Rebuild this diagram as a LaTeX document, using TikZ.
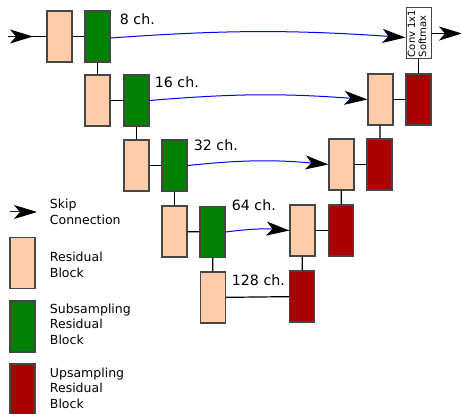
\documentclass[tikz,border=0pt]{standalone}
\usepackage{fontspec}
\setmainfont{DejaVu Sans}
\usetikzlibrary{arrows.meta}
\definecolor{peach}{RGB}{255,204,170}
\definecolor{sgreen}{RGB}{0,128,0}
\definecolor{ured}{RGB}{170,0,0}
\definecolor{edge}{RGB}{70,70,70}

\newcommand\myblock[4]{\node[block, fill=#4] (#1) at (#2,#3) {};}

\begin{document}
\begin{tikzpicture}[x=1pt, y=-1pt, line width=1.2pt,
    block/.style={draw=edge, minimum width=25pt, minimum height=51pt, inner sep=0pt},
    tip/.style={-{Stealth[color=black, length=23pt, width=14pt, inset=6pt]}},
    skip/.style={tip, blue, line width=1pt},
    lbl/.style={anchor=west, font=\fontsize{14.2}{16}\selectfont},
    leg/.style={anchor=west, align=left, font=\fontsize{12.5}{15.5}\selectfont}]
    \useasboundingbox (0,0) rectangle (461,414);

    % down path
    \myblock{r1}{59.5}{36.5}{peach}
    \myblock{s1}{97.5}{36.5}{sgreen}
    \myblock{r2}{97.5}{100.5}{peach}
    \myblock{s2}{136.5}{100.5}{sgreen}
    \myblock{r3}{136.5}{165.5}{peach}
    \myblock{s3}{174.5}{165.5}{sgreen}
    \myblock{r4}{174.5}{231.5}{peach}
    \myblock{s4}{212.5}{232}{sgreen}
    \myblock{r5}{213}{297.5}{peach}

    % up path
    \myblock{u5}{302}{296.5}{ured}
    \myblock{q4}{302.5}{230.5}{peach}
    \myblock{u4}{341}{230.5}{ured}
    \myblock{q3}{341.5}{164.5}{peach}
    \myblock{u3}{379.5}{164.5}{ured}
    \myblock{q2}{380.5}{99.5}{peach}
    \myblock{u2}{418.5}{99.5}{ured}
    \node[draw=edge, fill=white, line width=1pt, minimum width=25pt, minimum height=51pt, inner sep=0pt,
          font=\fontsize{10}{11}\selectfont] (conv) at (418.5,33.5)
          {\rotatebox{90}{\begin{tabular}{@{}l@{}}Conv 1x1\\Softmax\end{tabular}}};

    % in and out
    \coordinate (in) at (8,36.5);
    \coordinate (out) at (462,33.5);
    \draw (in) -- (r1.west);
    \draw[tip] (in) -- ++(25,0);
    \draw[tip] (conv.east) -- (out);

    % links
    \draw (r1) -- (s1);
    \draw (s1) -- (r2);
    \draw (r2) -- (s2);
    \draw (s2) -- (r3);
    \draw (r3) -- (s3);
    \draw (s3) -- (r4);
    \draw (r4) -- (s4);
    \draw (s4) -- (r5);
    \draw (r5) -- (u5);
    \draw (u5) -- (q4);
    \draw (q4) -- (u4);
    \draw (u4) -- (q3);
    \draw (q3) -- (u3);
    \draw (u3) -- (q2);
    \draw (q2) -- (u2);
    \draw (u2) -- (conv);

    % skips
    \draw[skip] ([yshift=-1.5pt]s1.east) to[bend left=4] ([yshift=-4pt]conv.west);
    \draw[skip] (s2.east) to[bend left=4.5] (q2.west);
    \draw[skip] (s3.east) to[bend left=5.5] (q3.west);
    \draw[skip] (s4.east) to[bend left=6] (q4.west);

    % channels
    \node[lbl] (c1) at (116,19) {8 ch.};
    \node[lbl] (c2) at (151,82) {16 ch.};
    \node[lbl] (c3) at (190,145) {32 ch.};
    \node[lbl] (c4) at (228,205) {64 ch.};
    \node[lbl] (c5) at (228,280) {128 ch.};

    % legend
    \coordinate (lega) at (10,212);
    \draw[skip] (lega) -- ++(27,0);
    \node[leg] (legt) at (46,212) {Skip\\Connection};
    \myblock{lr}{22.5}{263}{peach}
    \node[leg] (lrt) at (46,265) {Residual\\Block};
    \myblock{lg}{22.5}{326.5}{sgreen}
    \node[leg] (lgt) at (46,324) {Subsampling\\Residual\\Block};
    \myblock{lu}{22.5}{389.5}{ured}
    \node[leg] (lut) at (46,388) {Upsampling\\Residual\\Block};
\end{tikzpicture}
\end{document}
